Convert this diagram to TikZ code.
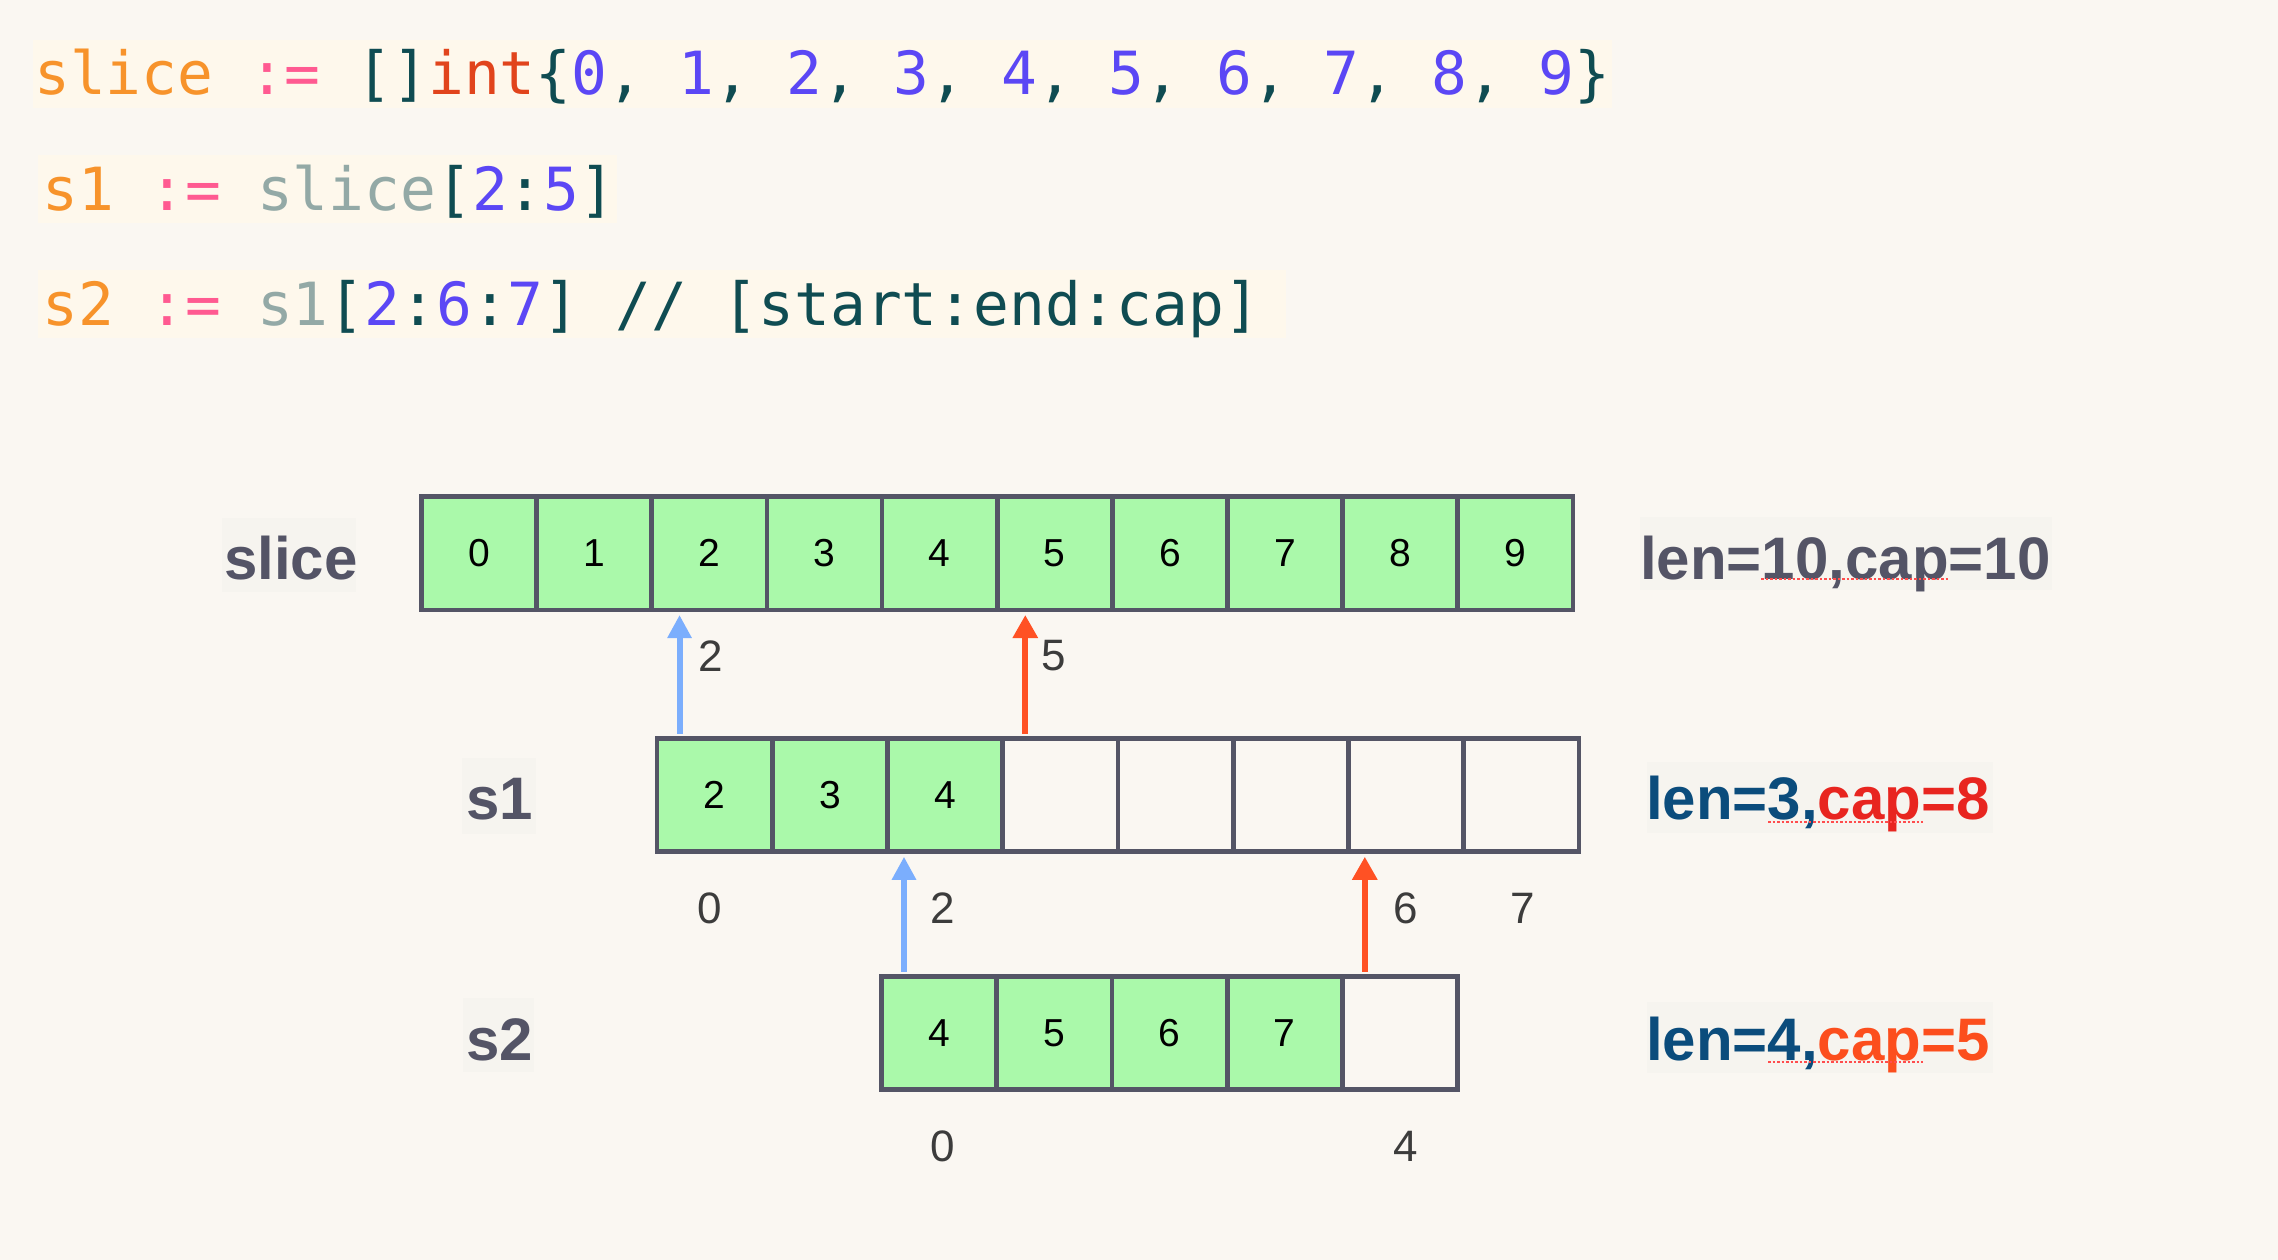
\documentclass[tikz,border=0pt]{standalone}
\usepackage{fontspec}
\setmainfont{Liberation Sans}
\newfontfamily\codefont{DejaVu Sans Mono}
\usetikzlibrary{arrows.meta,calc}
\definecolor{bg}{HTML}{FAF7F2}
\definecolor{hl}{HTML}{FEF8EC}
\definecolor{labbg}{HTML}{F6F4EF}
\definecolor{cellline}{HTML}{545566}
\definecolor{cellgreen}{HTML}{AAF9AA}
\definecolor{labgray}{HTML}{545466}
\definecolor{idxgray}{HTML}{3C3C3C}
\definecolor{arrblue}{HTML}{7BAEFD}
\definecolor{arrred}{HTML}{FF5124}
\definecolor{lenblue}{HTML}{0B4C7C}
\definecolor{capred}{HTML}{E8251F}
\definecolor{caporange}{HTML}{FC4E1D}
\definecolor{spellred}{HTML}{FF4D4D}
\definecolor{cor}{HTML}{F7932B}
\definecolor{cpk}{HTML}{FF5A91}
\definecolor{ctl}{HTML}{0F4C52}
\definecolor{cin}{HTML}{E1441C}
\definecolor{cpu}{HTML}{5B47F5}
\definecolor{cgy}{HTML}{93A9A6}
\newcommand\kO[1]{\textcolor{cor}{#1}}
\newcommand\kP[1]{\textcolor{cpk}{#1}}
\newcommand\kT[1]{\textcolor{ctl}{#1}}
\newcommand\kR[1]{\textcolor{cin}{#1}}
\newcommand\kU[1]{\textcolor{cpu}{#1}}
\newcommand\kG[1]{\textcolor{cgy}{#1}}
\tikzset{
  codeline/.style={anchor=base west, inner sep=0pt, font=\codefont\fontsize{59.5}{59.5}\selectfont},
  cellbox/.style={draw=cellline, line width=4.8pt, minimum width=115.2pt, minimum height=113.5pt,
    inner sep=0pt, outer sep=0pt, font=\fontsize{39}{39}\selectfont, text=black},
  greencell/.style={cellbox, fill=cellgreen},
  emptycell/.style={cellbox},
  rowlab/.style={anchor=base west, inner sep=0pt, font=\fontsize{60}{60}\selectfont\bfseries, text=labgray},
  idx/.style={inner sep=0pt, font=\fontsize{44}{44}\selectfont, text=idxgray},
  bluearr/.style={draw=arrblue, line width=6pt, -{Triangle[width=23pt,length=23pt]}},
  redarr/.style={draw=arrred, line width=6pt, -{Triangle[width=24pt,length=23pt]}},
  spell/.style={draw=spellred, line width=1.5pt, dash pattern=on 2.5pt off 2pt},
}
\begin{document}
\begin{tikzpicture}[x=1pt,y=-1pt]
\useasboundingbox (0,0) rectangle (2278,1260);
\fill[bg] (0,0) rectangle (2278,1260);

% code highlights
\fill[hl] (33,40) rectangle (1612,108);
\fill[hl] (38,155) rectangle (617,223);
\fill[hl] (38,270) rectangle (1286,338);

% code lines
\node[codeline] (code1) at (34,95) {\kO{slice} \kP{:=} \kT{[]}\kR{int}\kT{\{}\kU{0}\kT{,} \kU{1}\kT{,} \kU{2}\kT{,} \kU{3}\kT{,} \kU{4}\kT{,} \kU{5}\kT{,} \kU{6}\kT{,} \kU{7}\kT{,} \kU{8}\kT{,} \kU{9}\kT{\}}};
\node[codeline] (code2) at (42,211) {\kO{s1} \kP{:=} \kG{slice}\kT{[}\kU{2}\kT{:}\kU{5}\kT{]}};
\node[codeline] (code3) at (42,325) {\kO{s2} \kP{:=} \kG{s1}\kT{[}\kU{2}\kT{:}\kU{6}\kT{:}\kU{7}\kT{]} \kT{// [start:end:cap]}};

% label backgrounds
\fill[labbg] (222,518) rectangle (356,592);
\fill[labbg] (462,758) rectangle (536,834);
\fill[labbg] (463,998) rectangle (534,1072);
\fill[labbg] (1640,517) rectangle (2052,590);
\fill[labbg] (1647,762) rectangle (1993,833);
\fill[labbg] (1647,1002) rectangle (1993,1073);

% row labels
\node[rowlab] (lslice) at (224,579) {slice};
\node[rowlab] (ls1) at (466,819) {s1};
\node[rowlab] (ls2) at (466,1060) {s2};

\node[rowlab] (info0) at (1640,579) {len=10,cap=10};
\node[rowlab, text=lenblue] (info1) at (1646,819) {len=3,\textcolor{capred}{cap=8}};
\node[rowlab, text=lenblue] (info2) at (1646,1060) {len=4,\textcolor{caporange}{cap=5}};
\draw[spell] (1761,579) -- (1949,579);
\draw[spell] (1768,822) -- (1923,822);
\draw[spell] (1768,1062) -- (1923,1062);

% slice cells
\foreach \i in {0,...,9}
  \node[greencell] (sl\i) at ({421.5+115.15*(\i+0.5)},553.25) {\i};

% s1 cells
\foreach \i/\v in {0/2,1/3,2/4}
  \node[greencell] (sa\i) at ({657+115.25*(\i+0.5)},795) {\v};
\foreach \i in {3,...,7}
  \node[emptycell] (sa\i) at ({657+115.25*(\i+0.5)},795) {};

% s2 cells
\foreach \i/\v in {0/4,1/5,2/6,3/7}
  \node[greencell] (sb\i) at ({881.5+115.2*(\i+0.5)},1033) {\v};
\node[emptycell] (sb4) at ({881.5+115.2*4.5},1033) {};

% arrows s1 -> slice
\coordinate (t1) at ([xshift=22.5pt]sa0.north west);
\coordinate (h1) at (t1 |- sl2.south);
\draw[bluearr, shorten <=4.5pt, shorten >=5pt] (t1) -- (h1);
\coordinate (t2) at ([xshift=22.5pt]sa3.north west);
\coordinate (h2) at (t2 |- sl5.south);
\draw[redarr, shorten <=4.5pt, shorten >=5pt] (t2) -- (h2);

% arrows s2 -> s1
\coordinate (t3) at ([xshift=22.5pt]sb0.north west);
\coordinate (h3) at (t3 |- sa2.south);
\draw[bluearr, shorten <=4.5pt, shorten >=5pt] (t3) -- (h3);
\coordinate (t4) at ([xshift=22.5pt]sb4.north west);
\coordinate (h4) at (t4 |- sa6.south);
\draw[redarr, shorten <=4.5pt, shorten >=5pt] (t4) -- (h4);

% index labels
\node[idx] (n2) at (711,656) {2};
\node[idx] (n5) at (1054,656) {5};
\node[idx] (i10) at (710,908) {0};
\node[idx] (i12) at (943,908) {2};
\node[idx] (i16) at (1406,908) {6};
\node[idx] (i17) at (1523,908) {7};
\node[idx] (i20) at (943,1146) {0};
\node[idx] (i24) at (1406,1146) {4};
\end{tikzpicture}
\end{document}
